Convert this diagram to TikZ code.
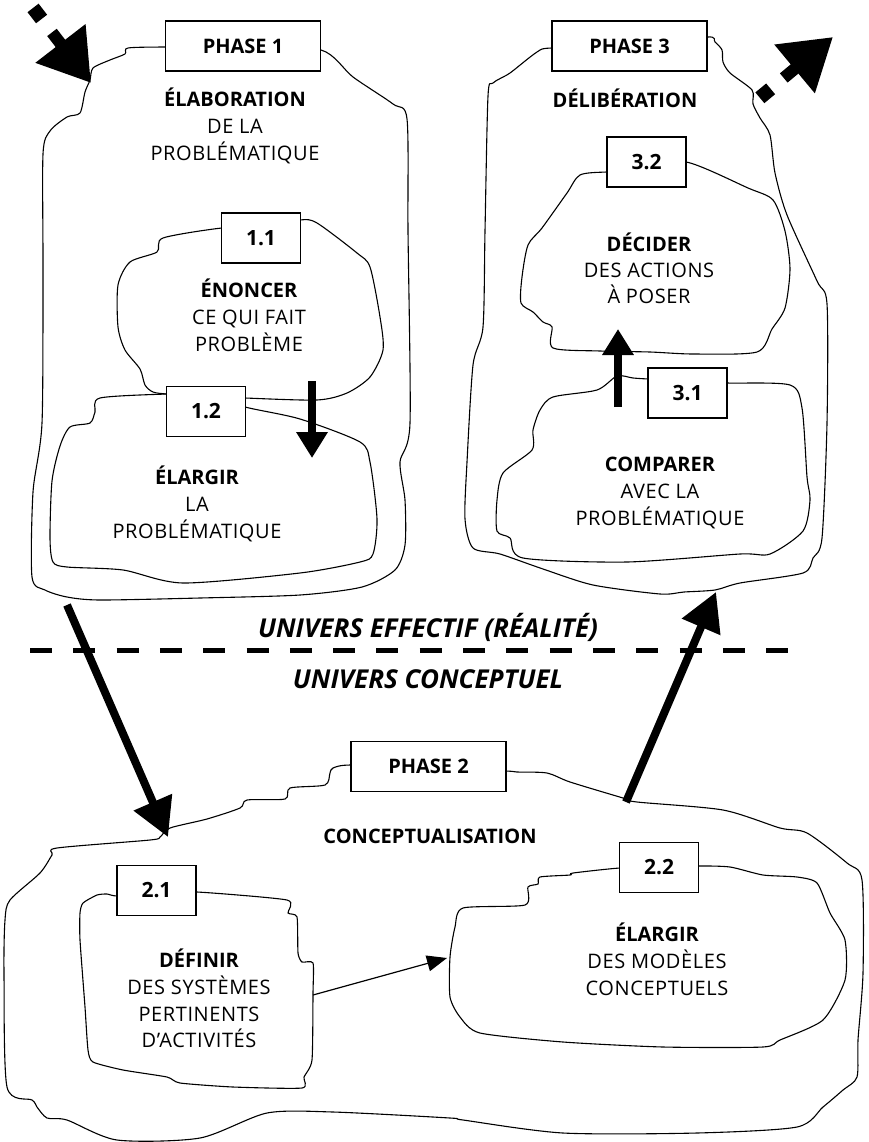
\documentclass[tikz,border=0pt]{standalone}
\usepackage{fontspec}
\setmainfont{Open Sans}
\newfontfamily\spaced[LetterSpace=3]{Open Sans}
\usetikzlibrary{arrows.meta,calc}
\tikzset{
  blob/.style={line width=1.1pt, black},
  phasebox/.style={draw, line width=1.2pt, fill=white, inner sep=0pt, minimum width=155pt, minimum height=50pt, font=\fontsize{20}{24}\selectfont\bfseries},
  numbox/.style={draw, line width=1.2pt, fill=white, inner sep=0pt, minimum width=79pt, minimum height=50pt, font=\fontsize{21}{24}\selectfont\bfseries},
  hd/.style={font=\fontsize{20}{24}\selectfont\bfseries, anchor=base, inner sep=0pt},
  tx/.style={font=\spaced\fontsize{20}{24}\selectfont, anchor=base, inner sep=0pt},
  uni/.style={font=\fontsize{26}{30}\selectfont\bfseries\itshape, anchor=base, inner sep=0pt},
  bigarrow/.style={line width=8pt, -{Triangle[length=38pt,width=40pt]}},
  midarrow/.style={line width=8pt, -{Triangle[length=26pt,width=30pt]}},
  thinarrow/.style={line width=1.2pt, -{Triangle[length=20pt,width=16pt]}},
  dashpiece/.style={line width=14pt},
  dashhead/.style={line width=12pt, -{Triangle[length=50pt,width=60pt]}}
}
\begin{document}
\begin{tikzpicture}[x=1pt,y=-1pt]
\useasboundingbox (0,0) rectangle (868,1142);
\fill[white] (0,0) rectangle (868,1142);

% ---------- outlines ----------
% Phase 1 outer
\draw[blob] plot[smooth cycle, tension=0.45] coordinates {
 (243,47) (165,47) (128,48) (125,54) (110,60) (93,68) (90,80) (85,92) (80,113) (67,117) (50,131) (43,154)
 (43,269) (42,423) (33,492) (32,577) (45,590) (67,597) (100,600) (200,598) (300,595) (362,587)
 (395,570) (405,545) (405,500) (400,462) (410,423) (408,231) (407,119) (393,104) (353,77) (321,50)};
% Phase 3 outer
\draw[blob] plot[smooth cycle, tension=0.45] coordinates {
 (630,48) (552,48) (537,52) (510,73) (493,83) (488,96) (485,231) (483,327) (473,365) (467,462)
 (465,519) (473,548) (500,554) (543,569) (593,585) (660,594) (684,592) (715,590) (740,583)
 (803,573) (813,558) (822,538) (827,423) (827,304) (817,281) (787,215) (775,173) (770,135)
 (760,118) (753,104) (752,90) (730,73) (723,62) (722,50) (715,42) (707,37)};
% 3.2
\draw[blob] plot[smooth cycle, tension=0.45] coordinates {
 (646,172) (607,172) (580,175) (567,193) (542,228) (528,245) (522,277) (521,303) (533,312)
 (543,322) (552,327) (553,348) (600,351) (650,352) (693,354) (757,352) (772,329) (785,308)
 (790,269) (785,231) (773,200) (748,188) (686,162)};
% 3.1
\draw[blob] plot[smooth cycle, tension=0.45] coordinates {
 (687,381) (648,379) (633,378) (617,376) (597,390) (553,397) (540,410) (533,430) (532,450)
 (503,473) (497,500) (497,531) (510,538) (523,558) (627,562) (740,554) (770,554) (803,531)
 (810,500) (807,477) (802,408) (790,385) (727,383)};
% 1.1
\draw[blob] plot[smooth cycle, tension=0.45] coordinates {
 (261,228) (222,228) (163,238) (157,252) (130,262) (118,285) (118,327) (125,350) (140,369)
 (145,385) (153,392) (167,394) (206,396) (245,398) (317,400) (347,393) (370,377) (383,350)
 (380,317) (370,267) (357,253) (317,223) (300,220)};
% 1.2
\draw[blob] plot[smooth cycle, tension=0.45] coordinates {
 (206,394) (167,394) (100,398) (95,412) (90,423) (70,427) (60,446) (52,481) (50,538) (53,562)
 (67,567) (123,570) (183,583) (300,573) (360,562) (373,554) (377,519) (370,462) (360,442)
 (300,419) (245,407)};
% Phase 2 outer
\draw[blob] plot[smooth cycle, tension=0.45] coordinates {
 (428,768) (351,765) (333,768) (330,773) (325,785) (290,788) (285,799) (247,800) (240,808)
 (207,819) (170,828) (160,837) (150,840) (57,848) (52,855) (40,873) (10,900) (5,920) (4,973)
 (7,1087) (32,1100) (37,1107) (47,1118) (67,1120) (117,1140) (200,1138) (267,1113) (333,1112)
 (450,1118) (463,1120) (563,1133) (697,1133) (797,1127) (823,1107) (843,1090) (857,1077)
 (858,1040) (863,973) (862,880) (847,863) (807,833) (780,828) (723,810) (637,802) (623,798)
 (570,782) (547,773) (517,772) (506,771)};
% 2.1
\draw[blob] plot[smooth cycle, tension=0.35] coordinates {
 (157,894) (117,896) (107,894) (97,895) (83,903) (80,913) (80,940) (85,1007) (88,1050) (93,1062)
 (123,1070) (167,1077) (180,1083) (233,1087) (302,1088) (304,1077) (312,1060) (313,993)
 (313,963) (302,962) (298,953) (297,917) (288,913) (287,900) (197,892)};
% 2.2
\draw[blob] plot[smooth cycle, tension=0.4] coordinates {
 (659,868) (620,868) (573,873) (570,875) (540,877) (538,884) (528,887) (525,905) (463,908)
 (455,927) (450,957) (450,997) (460,1017) (480,1033) (563,1042) (663,1047) (763,1047) (780,1040)
 (823,1020) (845,980) (845,940) (830,913) (817,883) (797,877) (763,875) (730,867) (698,866)};

% ---------- boxes ----------
\node[phasebox] (p1) at (243,46) {PHASE 1};
\node[phasebox] (p3) at (629.5,46) {PHASE 3};
\node[phasebox] (p2) at (428.5,766.5) {PHASE 2};
\node[numbox] (b11) at (261,238) {1.1};
\node[numbox] (b12) at (206,411.5) {1.2};
\node[numbox] (b32) at (646.5,162) {3.2};
\node[numbox] (b31) at (687.5,393) {3.1};
\node[numbox] (b21) at (156.5,890.5) {2.1};
\node[numbox] (b22) at (659,867.5) {2.2};

% ---------- texts ----------
\node[hd] (t1a) at (235,107) {ÉLABORATION};
\node[tx] (t1b) at (235,134) {DE LA};
\node[tx] (t1c) at (235,161) {PROBLÉMATIQUE};
\node[hd] (t11a) at (249,297) {ÉNONCER};
\node[tx] (t11b) at (249,324) {CE QUI FAIT};
\node[tx] (t11c) at (249,351) {PROBLÈME};
\node[hd] (t12a) at (197,484) {ÉLARGIR};
\node[tx] (t12b) at (197,511) {LA};
\node[tx] (t12c) at (197,538) {PROBLÉMATIQUE};
\node[hd] (t3a) at (625,108) {DÉLIBÉRATION};
\node[hd] (t32a) at (649,251) {DÉCIDER};
\node[tx] (t32b) at (649,277) {DES ACTIONS};
\node[tx] (t32c) at (649,303) {À POSER};
\node[hd] (t31a) at (660,471) {COMPARER};
\node[tx] (t31b) at (660,498) {AVEC LA};
\node[tx] (t31c) at (660,525) {PROBLÉMATIQUE};
\node[hd] (t2a) at (430,843) {CONCEPTUALISATION};
\node[hd] (t21a) at (199,967) {DÉFINIR};
\node[tx] (t21b) at (199,994) {DES SYSTÈMES};
\node[tx] (t21c) at (199,1021) {PERTINENTS};
\node[tx] (t21d) at (199,1047) {D’ACTIVITÉS};
\node[hd] (t22a) at (657,941) {ÉLARGIR};
\node[tx] (t22b) at (657,968) {DES MODÈLES};
\node[tx] (t22c) at (657,995) {CONCEPTUELS};
\node[uni] (ueff) at (428,637) {UNIVERS EFFECTIF (RÉALITÉ)};
\node[uni] (ucon) at (428,688) {UNIVERS CONCEPTUEL};

% ---------- separator ----------
\coordinate (sepL) at (30,650);
\coordinate (sepR) at (788,650);
\draw[line width=5pt, dash pattern=on 22pt off 21.3pt] (sepL) -- (sepR);

% ---------- arrows ----------
\coordinate (a12s) at (67,605);
\coordinate (a12e) at (168,837);
\draw[bigarrow] (a12s) -- (a12e);
\coordinate (a23s) at (626,802);
\coordinate (a23e) at (716,592);
\draw[bigarrow] (a23s) -- (a23e);
\coordinate (d1s) at (312,381);
\coordinate (d1e) at (312,458);
\draw[midarrow] (d1s) -- (d1e);
\coordinate (u3s) at (618,407);
\coordinate (u3e) at (618,329);
\draw[midarrow] (u3s) -- (u3e);
\coordinate (t2s) at (313,995);
\coordinate (t2e) at (447,958);
\draw[thinarrow] (t2s) -- (t2e);

% entry arrow (top left)
\coordinate (inTip) at (91,83);
\coordinate (inRef) at (30,4);
\draw[dashpiece] ($(inTip)!0.81!(inRef)$) -- ($(inTip)!0.95!(inRef)$);
\draw[dashhead] ($(inTip)!0.64!(inRef)$) -- (inTip);
% exit arrow (top right)
\coordinate (outTip) at (833,37);
\coordinate (outRef) at (756,101);
\draw[dashpiece] ($(outTip)!0.81!(outRef)$) -- ($(outTip)!0.95!(outRef)$);
\draw[dashhead] ($(outTip)!0.64!(outRef)$) -- (outTip);
\end{tikzpicture}
\end{document}
